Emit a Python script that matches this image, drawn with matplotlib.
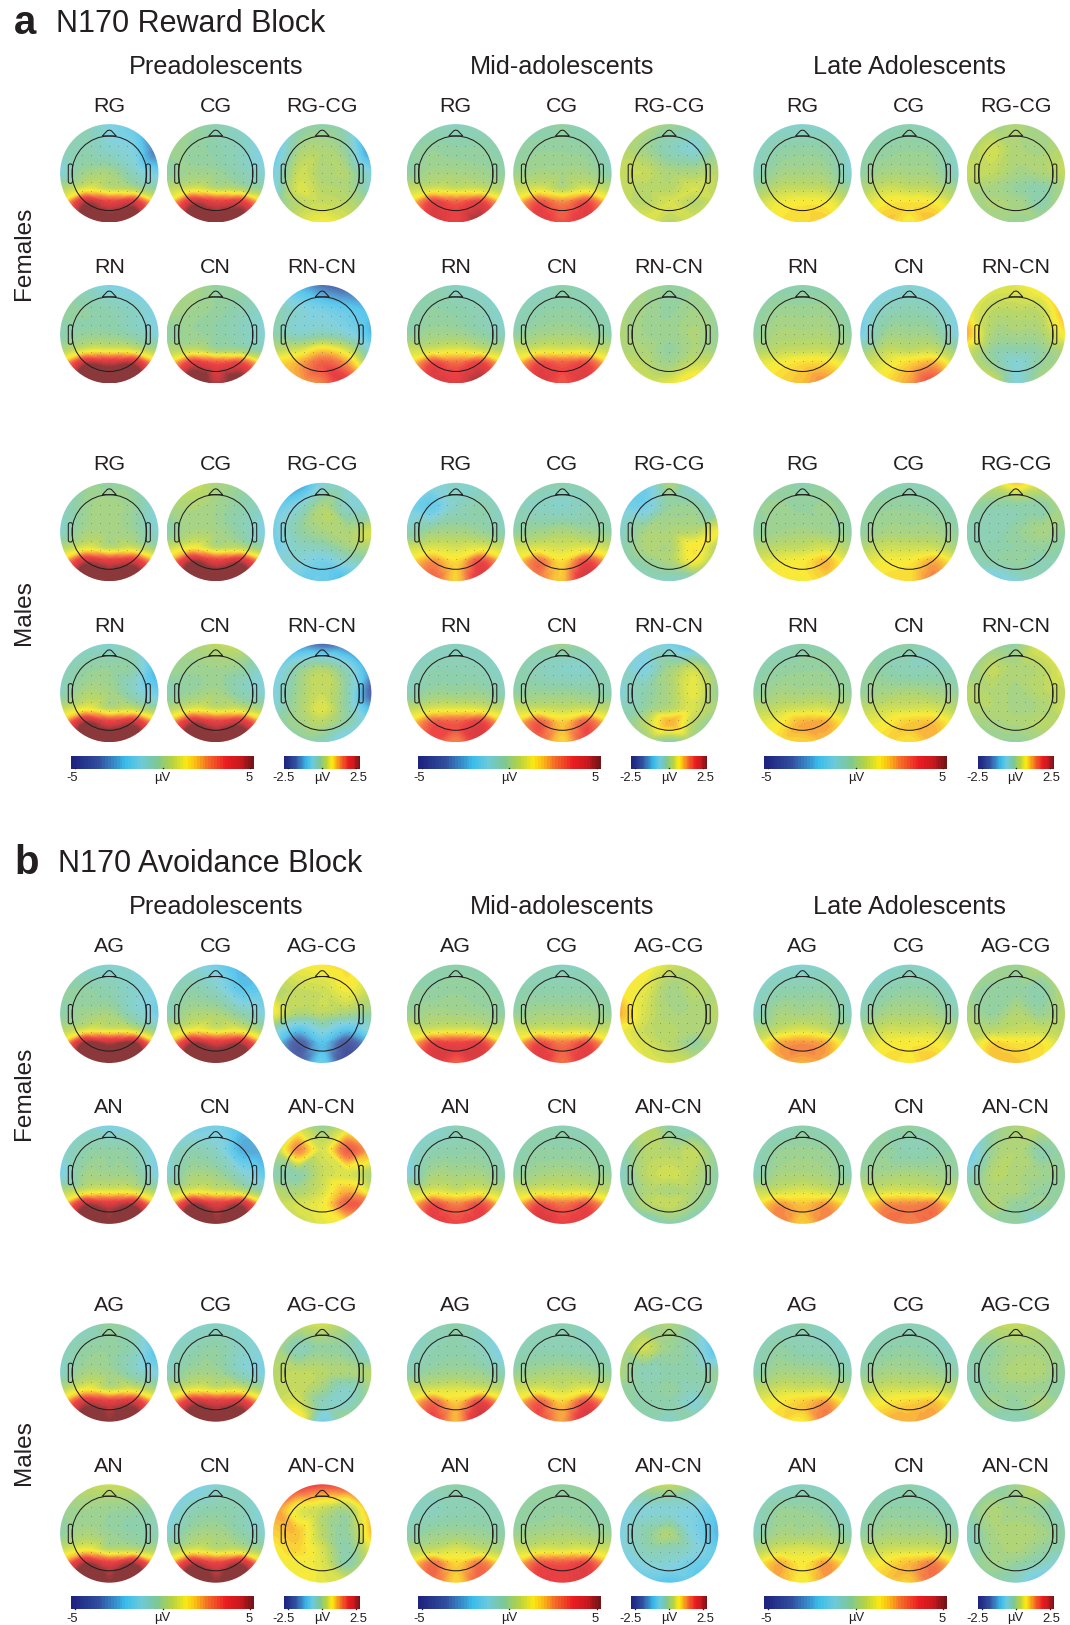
"""N170 topographies for the reward and avoidance blocks: 72 scalp maps with colour bars."""
import numpy as np
import matplotlib
matplotlib.use("Agg")
import matplotlib.pyplot as plt
import matplotlib.tri as mtri
from matplotlib.colors import LinearSegmentedColormap, Normalize
from matplotlib.patches import Circle, FancyBboxPatch, Polygon

plt.rcParams["font.family"] = ["Liberation Sans", "DejaVu Sans"]

GRID_X = [-1, -0.5, 0, 0.5, 1]
GRID_Y = [1, 0.5, 0, -0.33, -0.6, -1]

# each map: 6 rows (front to back) of 5 scalp values in uV
# order inside a list: cond1, cond2, diff1, cond3, cond4, diff2
REWARD_PRE_F = [
    [[-.4,-.5,-1.2,-1.6,-1.6],[-.7,-.5,-.9,-1.3,-3.5],[-1,0,.1,-.7,-1.5],[.3,1,.6,.3,-.3],[1,4.5,3.6,4,1],[3,6,5.5,6,3]],
    [[.2,-.1,-.5,-.8,-.8],[0,-.2,-.4,-.7,-1.3],[-.3,0,-.1,-.5,-1],[.5,.9,.5,.3,-.2],[1.2,4.3,3.7,3.8,1.2],[3,6,5.5,6,3]],
    [[-.8,-.3,-.2,-.4,-1.5],[-1,0,.1,-.2,-1.6],[-.7,.3,.1,.1,-.6],[-.6,.4,.2,.1,-.4],[-.3,.2,.3,.2,-.1],[.1,.4,.6,.4,.1]],
    [[-.5,-.8,-1.3,-1.4,-1.6],[-.2,-.3,-.5,-.8,-1.3],[-.5,-.2,-.2,-.5,-1.1],[.2,.9,1,.8,.1],[1.4,4.5,4.3,4.5,1.4],[3,6.5,6,6.5,3]],
    [[.2,.1,-.2,-.2,-.3],[.1,0,-.2,-.5,-.9],[-.3,-.1,-.3,-.6,-1],[.3,.6,.1,0,-.5],[1.2,3.8,3.2,3.4,1],[3,6,4.5,5.5,2.5]],
    [[-1,-1.2,-1.7,-1.9,-1.5],[-.2,-.5,-.7,-.9,-1.1],[-.2,-.4,-.3,-.5,-1.1],[.2,.4,.8,.4,-.6],[.7,1,1.5,1.1,-.2],[.6,1,1.3,1.9,.5]],
]
REWARD_MID_F = [
    [[-.5,-.6,-.7,-.7,-.8],[-.4,-.2,-.3,-.3,-.5],[-.3,.1,.1,0,-.3],[.6,.8,.7,.7,.3],[1.3,3.5,3,3.5,1.3],[2.5,4,3.6,4.8,2.5]],
    [[-.5,-.5,-.3,-.7,-1.1],[-.3,-.2,-.2,-.3,-.9],[-.1,.1,.1,.1,-.5],[.6,.9,.4,.9,.4],[1.3,3.2,2.4,3.3,1.3],[2,3.8,3.2,3.9,2]],
    [[.3,.2,0,-.1,-.1],[.2,0,-.3,-.5,-.1],[.3,.3,.1,.1,.2],[.3,.2,.2,.4,.2],[.3,.2,.4,.2,.3],[.5,.5,.2,.4,.5]],
    [[-.5,-.5,-.8,-.9,-1],[-.5,-.3,-.4,-.6,-1],[-.3,0,0,-.3,-.7],[.7,.8,1,.7,.4],[1.3,3.3,2.8,3.5,1.3],[2.5,4,3.8,4.8,2.5]],
    [[-.9,-.8,-.4,-.7,-1],[-.7,-.4,-.3,-.4,-.7],[-.3,0,.1,0,-.4],[.7,.9,.9,.9,.5],[1.4,3.3,3,3.3,1.4],[2.5,3.9,3.2,3.9,2.5]],
    [[0,0,-.1,-.1,-.1],[.1,0,-.1,0,-.1],[.1,0,-.05,.1,-.1],[.1,.1,-.1,.1,0],[.3,.2,0,.3,.3],[.5,.4,.5,.9,.6]],
]
REWARD_LATE_F = [
    [[-1,-1,-.9,-1,-1.1],[-.9,-.4,-.3,-.4,-1.1],[-.7,0,.1,0,-1],[-.1,.5,.6,.5,-.2],[.5,1.1,1.3,1.2,.4],[1,1.4,1.5,1.7,1]],
    [[-.5,-.6,-.5,-.8,-1.1],[-.4,-.3,-.2,-.3,-1],[-.3,.1,.1,0,-.8],[.2,.7,.6,.5,0],[.7,1.3,1.4,1.3,.5],[1.1,1.8,1.3,1.9,1]],
    [[-.2,0,.1,0,-.2],[.1,.35,.1,.05,.2],[.3,.25,.05,.1,.3],[.1,.05,-.1,-.2,.1],[0,.1,.05,-.2,.2],[-.1,0,-.05,0,-.1]],
    [[-.4,-.5,-.4,-.5,-.5],[-.4,-.1,-.1,-.1,-.5],[-.3,.2,.2,.2,-.3],[.2,.5,.6,.6,.1],[.9,1.2,1.5,1.5,.8],[1.3,1.6,1.9,2.4,1.3]],
    [[-1.6,-1.4,-1,-1.4,-1.8],[-1.5,-.7,-.5,-.7,-1.5],[-1.4,-.1,0,-.1,-1.2],[-.2,.5,.5,.6,-.1],[.5,1,1.6,2,.5],[1,1.5,2.2,3.3,1.2]],
    [[.6,.5,.5,.8,1.3],[.6,.25,.25,.3,1.1],[1,.1,.05,.1,.7],[.4,-.1,-.2,-.1,.2],[.3,-.05,-.5,-.1,.1],[.4,.4,-.5,.1,.3]],
]
REWARD_PRE_M = [
    [[-.4,-.2,-.3,-.3,-.6],[-.8,-.1,.1,-.2,-1.2],[-.8,.1,.1,-.1,-1],[.3,1,.5,.7,-.1],[1.4,4.3,3.8,4,1.4],[3,6.5,5.5,6.5,3]],
    [[.7,.7,.2,-.1,-.1],[.1,.2,0,-.4,-.8],[-.4,.2,.1,-.4,-1.3],[.6,1.3,.5,.5,-.2],[1.7,4.7,3.7,4.3,1.5],[3,6.5,6,6.5,3]],
    [[-1.7,-1.5,-.6,-.5,-.7],[-.9,-.5,.1,-.4,-.5],[-.7,-.2,.05,.1,.4],[-.8,-.4,-.3,0,.1],[-.5,-.5,-.7,-.4,-.2],[-.4,-.8,-.8,-1.1,-.4]],
    [[-1,-1,-1,-.7,-.8],[-.8,-.3,-.2,-.5,-2.4],[-.6,.2,.1,-.7,-1.6],[.5,1.2,.5,.6,-.1],[1.6,4.7,3.7,4.2,1.5],[3,6.5,6,6.5,3]],
    [[-.1,.2,.5,.6,.3],[-.1,-.1,0,-.2,-1],[-.5,-.1,.1,-.5,-1],[.3,1,.7,.7,.1],[1.6,4.4,3.7,4.1,1.5],[3,6.5,5.5,6.5,3]],
    [[-1,-1.5,-1.8,-1.7,-1.3],[-.8,-.2,.1,-.4,-1.4],[-.6,0,.3,-.2,-1.9],[-.5,.05,.45,-.2,-1.2],[-.2,0,.2,-.2,-.8],[-.2,-.2,-.3,-.9,-1]],
]
REWARD_MID_M = [
    [[-1,-1,-.9,-.9,-.9],[-1.4,-1.7,-.7,-.4,-.9],[-.6,0,.1,-.1,-.6],[.7,.9,.8,1,.6],[1.3,2.3,1.5,3.3,1.5],[2,3,1.7,4,2.5]],
    [[-.4,-.4,-.4,-.5,-.5],[-.6,-.7,-.8,-.6,-.6],[-.3,0,.2,0,-.3],[.8,.9,.8,1,.6],[1.3,2.7,1.5,3.3,1.6],[2,2.5,1.8,4.5,2.5]],
    [[-.9,-.8,.1,-.6,-.7],[-.7,-.7,-.1,-.1,-.5],[-.4,.05,.1,.2,.6],[-.3,.1,.1,.7,.1],[-.3,-.1,.1,.6,0],[-.3,-.4,-.4,-.4,-.4]],
    [[-.8,-.8,-.7,-.8,-.9],[-.8,-.5,-.5,-.6,-.9],[-.6,-.1,-.1,-.1,-.6],[.5,.9,1,.9,.5],[1.3,3,3,3.5,1.4],[2,3.3,2.5,4,2.2]],
    [[-.4,-.2,0,-.2,-.4],[-.4,-.6,-.8,-.8,-.5],[-.3,-.1,-.1,-.2,-.5],[.7,.7,.6,.7,.4],[1.4,3,1.7,3,1.3],[2,2.9,1.6,3.3,2]],
    [[-.6,-.6,-.7,-1.1,-.7],[-.4,-.6,0,.3,-.2],[-.5,-.2,.1,.5,-.1],[-.3,-.1,.2,.4,0],[-.2,.2,1,.2,-.2],[-.1,-.1,-.2,-.1,-.1]],
]
REWARD_LATE_M = [
    [[-.2,-.3,-.4,-.3,-.4],[-.2,-.1,-.2,-.1,-.3],[-.3,0,.1,0,-.3],[.3,.5,.6,.8,.2],[.8,1.1,1.3,1.9,.7],[1.2,1.3,1.2,1.6,1]],
    [[-.4,-.5,-.6,-.7,-.8],[-.3,-.2,-.2,-.3,-.6],[-.3,.1,.1,.1,-.3],[.3,.7,.7,.7,.1],[.8,1.2,1.3,2,.9],[1.2,1.5,1.5,2.5,1.3]],
    [[.2,.4,.9,.5,.3],[-.1,-.2,-.2,-.2,.1],[-.3,-.3,-.1,.05,-.1],[-.2,-.2,-.15,-.1,-.2],[-.3,-.2,-.1,-.3,-.2],[-.5,-.8,-.5,-.3,-.3]],
    [[-.6,-.7,-.4,-.4,-.4],[-.5,-.3,-.2,-.2,-.4],[-.3,.1,.1,.1,-.2],[.4,.6,.8,.8,.3],[.9,1.2,2,2,.9],[1.2,1.5,1.6,1.8,1.2]],
    [[-.3,-.3,-.3,-.7,-.7],[-.2,-.4,-.6,-.6,-.7],[-.2,.1,.2,.1,-.2],[.5,.7,.8,.8,.3],[.9,1.2,1.7,1.8,.9],[1.2,1.6,1.4,1.9,1.2]],
    [[-.2,-.1,-.1,.5,.6],[-.1,.25,.1,.2,.5],[.2,.15,.05,.2,.3],[.1,.15,.05,.1,.4],[0,.05,.1,.2,.2],[-.1,-.1,-.1,0,.1]],
]
AVOID_PRE_F = [
    [[-.6,-.9,-1,-1,-1],[-.3,-.3,-.5,-.9,-1.2],[-.4,0,.1,-.7,-1.5],[.3,.9,.9,.7,-.3],[1.2,5,4.5,5,1.2],[3,6.5,5,6.5,3]],
    [[-1.2,-1,-1.5,-2.3,-2],[-.7,-.4,-.8,-1.9,-1.8],[-.6,.2,.2,-.4,-1.2],[.5,1.2,.9,1,0],[1.5,4.7,4,4.5,1.5],[3,6.5,6,6.5,3]],
    [[.5,.6,.7,.8,.8],[.2,.3,.35,.6,.3],[.6,.1,.2,.05,-.1],[-.3,-1,-.5,-1,-.4],[-.7,-1.9,-1,-2,-1.1],[-.8,-1.8,-.8,-2.3,-1.5]],
    [[-1,-1,-1.3,-1.3,-1.3],[-1,-.4,-.3,-.5,-1.5],[-1.3,0,0,-.1,-1.2],[.3,.8,1,.9,.1],[1.2,4.5,4,4.5,1.3],[3,6.5,5,6.5,3]],
    [[-1.3,-1.5,-1.4,-2,-1.5],[-1,-.5,-.8,-2.3,-2.5],[-.9,.1,0,-.8,-1.8],[.4,1,.8,.5,-.4],[1.5,4.7,3.8,4.5,1.2],[3,6.5,5,6,3]],
    [[.2,.3,-.1,.3,.3],[.1,1.2,.4,1.5,1],[-.2,-.2,.3,.4,.1],[.2,.1,.4,1,.4],[.3,.4,.6,1.5,1.3],[.1,.3,.5,.6,.4]],
]
AVOID_MID_F = [
    [[-.3,-.4,-.4,-.4,-.5],[-.3,-.3,-.2,-.3,-.4],[-.1,.1,.1,0,-.3],[.8,.8,.9,.8,.6],[1.4,3.4,3.4,3.5,1.3],[2.5,4,3,4,2.5]],
    [[-.6,-.6,-.7,-.7,-.7],[-.5,-.4,-.4,-.4,-.5],[-.2,.1,.1,.1,-.2],[.8,.8,.8,.8,.6],[1.4,3.3,2.6,3.3,1.4],[2.5,3.8,2.8,3.8,2.5]],
    [[.5,.7,.4,.2,-.1],[.7,.5,.05,.2,.1],[1,.4,.1,.1,.2],[.6,.3,.2,.1,.1],[.6,.4,.2,-.1,.15],[.5,.5,.4,.3,.3]],
    [[-1,-1,-.6,-.6,-.6],[-1.1,-.5,-.4,-.4,-.8],[-1.1,.1,.1,.1,-.5],[.6,.9,.7,.9,.4],[1.3,3.2,2.5,3.2,1.3],[2.5,3.7,3.4,3.7,2.5]],
    [[-.6,-.5,-.5,-.6,-.6],[-.5,-.3,-.3,-.3,-.5],[-.3,.1,.2,.1,-.2],[.7,.9,.9,.9,.5],[1.4,3.2,2.7,3.2,1.5],[2.5,4.2,3.5,3.8,2.5]],
    [[-.3,.2,-.2,-.5,-.5],[-.3,.15,.15,.25,-.2],[-.4,.2,.35,.2,-.2],[-.2,.1,.1,.1,-.2],[-.3,.15,.3,0,-.3],[-.5,-.5,-.2,-.4,-.5]],
]
AVOID_LATE_F = [
    [[-1,-1,-1,-.9,-.9],[-1,-.5,-.4,-.4,-.9],[-.8,.1,.1,.1,-.7],[.2,.6,.9,.6,0],[.6,2,2.3,2,.6],[1,2,2,2,1]],
    [[-1,-1,-.8,-1,-1.1],[-.9,-.5,-.3,-.4,-1],[-.5,.1,.2,.1,-.5],[.2,.7,.7,.7,.2],[.7,1.2,1.3,1.3,.7],[1,1.5,1.3,1.8,1.1]],
    [[0,0,-.05,.2,.2],[-.05,-.1,-.1,-.2,.25],[.1,-.1,.15,-.05,.2],[.2,.2,.3,.3,.2],[.3,.8,.7,.7,.3],[.4,.9,.9,.7,.4]],
    [[-.7,-.8,-.4,-.7,-.8],[-.7,-.2,-.1,-.2,-.6],[-.6,.1,.2,.1,-.5],[.6,.7,.9,.7,.4],[1.2,2.2,1.8,2.2,1.2],[2,2.5,1.7,2.5,2]],
    [[-.3,-.3,-.2,-.4,-.3],[-.3,-.2,-.5,-.4,-.3],[-.1,.1,.2,.1,-.2],[.7,.8,.8,.7,.5],[1.3,2.3,2.4,2.5,1.2],[2,2.7,2.5,2.8,2]],
    [[-.1,-.1,.1,.2,.1],[-.9,-.05,.15,-.2,-.1],[-.4,.15,.1,0,-.1],[-.1,.1,.1,-.1,-.15],[-.2,.15,-.1,-.05,-.2],[-.2,-.2,-.1,-.6,-.5]],
]
AVOID_PRE_M = [
    [[-.9,-.8,-.2,-.6,-.9],[-.8,-.3,-.2,-.6,-2],[-.8,.1,0,-.6,-1.2],[.3,1.2,.6,.8,.1],[1.5,4.2,3.8,4.1,1.4],[3,6,5,6,3]],
    [[-1,-1,-.8,-1,-1],[-.9,-.5,-.3,-.8,-1.1],[-.7,0,0,-.7,-1.3],[.4,1,.8,.8,0],[1.6,4.2,3.9,4,1.4],[3,6,5.3,6,3]],
    [[.3,.3,.4,.1,-.5],[.1,-.3,-.1,-.2,-.6],[.2,.25,.2,.1,.2],[.2,.3,0,-.4,.1],[.3,.4,-.3,-.4,.1],[.5,.8,-.7,.1,.1]],
    [[.6,.6,.7,.6,.4],[-.1,0,-.1,-.2,-.4],[-.3,.2,-.1,-.3,-.5],[.6,1.3,.5,.5,.2],[1.8,4.7,3.7,4.6,1.6],[3,6.5,5,6.5,3]],
    [[-1.5,-1.5,-1,-.8,-.8],[-1.4,-.6,-.4,-.6,-1.2],[-.9,0,.1,-.3,-.9],[.2,.9,.6,.6,0],[1.4,4.4,3.5,4.5,1.3],[3,6.5,5,6.5,3]],
    [[1.6,1.9,1.7,1.7,1.4],[1.2,.55,.3,.1,1.1],[.8,.9,.2,-.1,.9],[.6,.8,.4,-.2,.5],[.5,.6,.45,-.2,.4],[.6,.7,.5,.45,.5]],
]
AVOID_MID_M = [
    [[-.6,-.6,-.4,-.8,-1.4],[-.8,-.5,-.4,-.7,-1.5],[-.5,-.1,0,-.1,-.6],[.6,.8,.9,.8,.4],[1.2,2.8,1.7,3.5,1.5],[2,3.5,2,4.5,2.5]],
    [[-.5,-.5,-.5,-.7,-.9],[-.6,-.5,-.5,-.6,-.8],[-.2,.1,.2,.1,-.3],[.7,.9,.7,1,.5],[1.3,3,1.7,3.3,1.5],[2.2,3.3,2.2,4.3,2.5]],
    [[0,-.05,.1,-.3,-1],[.1,.35,-.05,-.3,-1.1],[.1,-.3,-.2,-.2,-.1],[-.1,-.2,-.1,-.3,-.1],[-.1,-.2,-.2,-.5,-.1],[-.1,-.2,-.4,-.1,-.2]],
    [[-.7,-.5,-.3,-.5,-.6],[-.8,-.7,-.5,-.5,-.7],[-.5,-.1,0,-.1,-.4],[.4,.6,.9,.6,.2],[1.2,2.7,1.6,2.6,1.1],[2,2.8,1.6,3,2]],
    [[-.3,-.2,-.2,-.2,-.3],[-.3,-.3,-.2,-.3,-.5],[-.1,.1,.2,.1,-.1],[.7,.9,.9,1,.7],[1.5,3.1,3.1,3.4,1.6],[2.5,3.6,3.5,3.8,2.5]],
    [[0,.2,.3,0,-.8],[-.6,-.5,-.5,-.6,-1],[-.6,-.2,.1,-.6,-1.1],[-.6,-.3,-.3,-.5,-.9],[-.8,-.5,-.5,-.8,-.9],[-.9,-.9,-1,-.9,-.9]],
]
AVOID_LATE_M = [
    [[-.7,-.7,-.4,-.8,-.9],[-.7,-.3,-.5,-.6,-1],[-.5,.1,.1,0,-.5],[.4,.7,.7,.7,.2],[.9,1.3,1.7,2.2,.8],[1.2,1.5,1.3,2.6,1.3]],
    [[-.7,-.7,-.6,-.7,-.9],[-.6,-.4,-.3,-.5,-.9],[-.3,.1,.1,0,-.4],[.4,.7,.7,.7,.3],[1,1.3,1.6,1.8,.9],[1.3,2,2,2.2,1.2]],
    [[.2,.25,.3,.2,.1],[-.2,-.1,.05,.05,-.1],[-.3,-.05,.15,.1,-.15],[-.2,-.1,-.05,-.05,-.2],[-.2,0,-.1,.1,-.15],[-.2,-.3,-.3,-.15,-.2]],
    [[-.7,-.9,-.7,-.9,-1.3],[-.8,-.2,-.2,-.4,-1.1],[-.7,.1,.1,.1,-.5],[.2,.8,.9,.8,.2],[1,2,1.3,2.2,1],[1.6,2,1.2,2.2,1.6]],
    [[-.5,-.7,-.4,-.8,-.9],[-.5,-.3,-.3,-.4,-.8],[-.3,.1,.1,.1,-.3],[.5,.7,.8,.8,.3],[1,1.4,1.9,2.5,1.2],[1.4,1.8,1.7,2.7,1.6]],
    [[-.2,-.2,0,.3,.2],[-.2,.1,0,-.1,-.4],[-.4,.05,.15,.05,-.2],[-.3,0,.1,-.1,-.3],[-.2,0,-.1,-.3,-.6],[-.2,-.2,-.4,-.9,-.6]],
]

AGES = ["Preadolescents", "Mid-adolescents", "Late Adolescents"]
SEXES = ["Females", "Males"]
REWARD_LABELS = ["RG", "CG", "RG-CG", "RN", "CN", "RN-CN"]
AVOID_LABELS = ["AG", "CG", "AG-CG", "AN", "CN", "AN-CN"]
BAR_TICKS = ["-5", "µV", "5"]
DIFF_TICKS = ["-2.5", "µV", "2.5"]

# layout in reference pixels
COL_X = [[109.3, 215.7, 322.2], [455.8, 562.4, 669.2], [802.5, 909.4, 1015.8]]
R = 49.2
INK = "#231f20"

colors = [
    (0, "#1e2380"), (.15, "#32509f"), (.3, "#3cbeeb"), (.38, "#6ccadc"), (.47, "#7dc896"),
    (.55, "#b4d246"), (.63, "#faeb14"), (.68, "#fabe14"), (.75, "#f56e28"), (.85, "#eb1e23"),
    (.93, "#c8191e"), (1, "#761418"),
]
cmap = LinearSegmentedColormap.from_list("erp", colors, N=64)

fig = plt.figure(figsize=(10.7, 16.25), dpi=100)
ax = fig.add_axes([0, 0, 1, 1])
ax.set_axis_off()

xs, ys = np.meshgrid(GRID_X, GRID_Y)
tri = mtri.Triangulation(xs.ravel(), ys.ravel())
fine = np.linspace(-.998, .998, 140)
fx, fy = np.meshgrid(fine, -fine)


def topo(cx, cy, values, vmax):
    z = mtri.CubicTriInterpolator(tri, np.array(values, dtype=float).ravel(), kind="geom")(fx, fy)
    im = ax.imshow(np.ma.filled(z, 0), cmap=cmap, norm=Normalize(-vmax, vmax), alpha=.85, origin="upper",
                   extent=(cx - R, cx + R, cy + R, cy - R), interpolation="bilinear", aspect="auto")
    im.set_clip_path(Circle((cx, cy), R, transform=ax.transData))
    # electrodes
    gx, gy = np.meshgrid(np.arange(-4, 5) * 9.0, np.arange(-3, 4) * 9.0)
    keep = gx ** 2 + gy ** 2 < 35 ** 2
    ax.scatter(cx + gx[keep], cy + gy[keep], s=.35, color="#4a5a5a", alpha=.45, linewidths=0)
    ax.add_patch(Circle((cx, cy), 37.3, fill=False, ec=INK, lw=.75))
    ax.add_patch(Polygon([(cx - 7, cy - 37.3), (cx - 2, cy - 42.6), (cx, cy - 43.2), (cx + 2, cy - 42.6),
                          (cx + 7, cy - 37.3)], closed=True, fill=False, ec=INK, lw=.75))
    for sign in (-1, 1):
        left = cx - 41 if sign < 0 else cx + 36.8
        ax.add_patch(FancyBboxPatch((left, cy - 9.3), 4.2, 19.3, boxstyle="round,pad=0,rounding_size=1.8",
                                    fill=False, ec=INK, lw=.75))


def colour_bar(left, right, y, vmax, labels, offsets):
    ax.imshow(np.linspace(-vmax, vmax, 256)[None, :], cmap=cmap, norm=Normalize(-vmax, vmax), origin="upper",
              extent=(left, right, y + 13, y), aspect="auto", interpolation="nearest")
    mid = (left + right) / 2
    ax.scatter([left + 4, mid, right - 4], [y + 12] * 3, s=1.2, color="#222222", linewidths=0)
    for txt, x in zip(labels, (left + offsets[0], mid, right + offsets[1])):
        ax.text(x, y + 22, txt, ha="center", va="center", fontsize=9.4, color=INK)


def panel(top, title, letter, labels, grids, title_x):
    ax.text(14, top + 23, letter, fontsize=29, fontweight="bold", color=INK, ha="left", va="center")
    ax.text(title_x, top + 24, title, fontsize=22, color=INK, ha="left", va="center")
    rows = [173.3, 334.2, 532, 693]
    for a, age in enumerate(AGES):
        ax.text(COL_X[a][1], top + 67, age, fontsize=18.2, color=INK, ha="center", va="center")
        for s in range(2):
            for k in range(6):
                cy = rows[2 * s + k // 3] + top
                cx = COL_X[a][k % 3]
                ax.text(cx, cy - 67, labels[k], fontsize=15.4, color=INK, ha="center", va="center")
                topo(cx, cy, grids[s][a][k], 2.5 if k % 3 == 2 else 5)
        ledge = COL_X[a][0] - 38.3
        sedge = COL_X[a][2] - 38.2
        colour_bar(ledge, ledge + 183, top + 756, 5, BAR_TICKS, (1.5, -5))
        colour_bar(sedge, sedge + 76, top + 756, 2.5, DIFF_TICKS, (-.5, -2))
    for s, sex in enumerate(SEXES):
        ax.text(24, top + (253, 612.5)[s], sex, fontsize=17.6, color=INK, rotation=90, ha="center", va="center")


panel(0, "N170 Reward Block", "a", REWARD_LABELS,
      [[REWARD_PRE_F, REWARD_MID_F, REWARD_LATE_F], [REWARD_PRE_M, REWARD_MID_M, REWARD_LATE_M]], 56.5)
panel(840.5, "N170 Avoidance Block", "b", AVOID_LABELS,
      [[AVOID_PRE_F, AVOID_MID_F, AVOID_LATE_F], [AVOID_PRE_M, AVOID_MID_M, AVOID_LATE_M]], 58.5)

ax.set_xlim(0, 1070)
ax.set_ylim(1625, 0)
fig.savefig("out.png", dpi=100, facecolor="white")
